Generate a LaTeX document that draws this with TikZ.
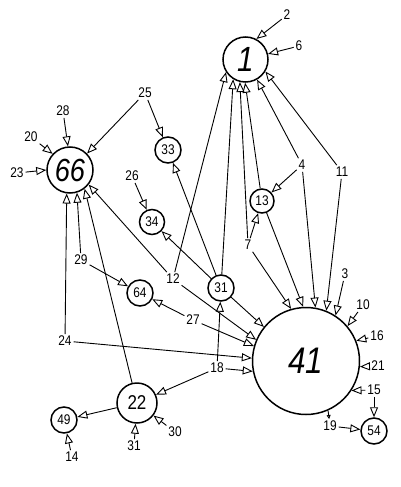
\documentclass[tikz,border=0pt]{standalone}
\usepackage{fontspec}
\usetikzlibrary{arrows.meta}
\newfontfamily\lab[FakeStretch=0.85]{Liberation Sans}
\tikzset{
  v/.style={circle, draw, line width=1.5pt, inner sep=0pt, font=\lab\fontsize{14}{14}\selectfont},
  lbl/.style={inner sep=1.8pt, font=\lab\fontsize{14}{14}\selectfont},
  e/.style={line width=0.9pt, -{Triangle[open,length=10pt,width=8pt]}},
  esmall/.style={line width=0.9pt, -{Triangle[open,length=4pt,width=4pt]}},
}
\begin{document}
\begin{tikzpicture}[x=1pt,y=-1pt]
\useasboundingbox (0,0) rectangle (400,487);
% circles
\node[v, minimum size=45pt, font=\lab\itshape\fontsize{35}{35}\selectfont] (n1) at (245.5,59.5) {1};
\node[v, minimum size=46pt, font=\lab\itshape\fontsize{32}{32}\selectfont] (n66) at (70,170) {66};
\node[v, minimum size=26pt] (n33) at (168,150) {33};
\node[v, minimum size=25pt] (n34) at (152,222) {34};
\node[v, minimum size=24pt] (n13) at (262,201) {13};
\node[v, minimum size=26pt] (n64) at (140,293) {64};
\node[v, minimum size=26pt] (n31) at (221,288) {31};
\node[v, minimum size=107pt, font=\lab\itshape\fontsize{37}{37}\selectfont] (n41) at (306,361) {41};
\node[v, minimum size=40pt, font=\lab\fontsize{20}{20}\selectfont] (n22) at (137,403) {22};
\node[v, minimum size=26pt] (n49) at (64,420) {49};
\node[v, minimum size=26pt] (n54) at (374,431) {54};
% labels
\node[lbl] (l2) at (287,15) {2};
\node[lbl] (l6) at (299,46) {6};
\node[lbl] (l25) at (145,93) {25};
\node[lbl] (l28) at (63,111) {28};
\node[lbl] (l20) at (31,137) {20};
\node[lbl] (l23) at (17,173) {23};
\node[lbl] (l26) at (132,176) {26};
\node[lbl] (l4) at (302,165) {4};
\node[lbl] (l11) at (342,172) {11};
\node[lbl] (l7) at (248,245) {7};
\node[lbl] (l12) at (173,279) {12};
\node[lbl] (l29) at (81,260) {29};
\node[lbl] (l27) at (193,320) {27};
\node[lbl] (l24) at (65,341) {24};
\node[lbl] (l18) at (217,368) {18};
\node[lbl] (l3) at (345,274) {3};
\node[lbl] (l10) at (363,305) {10};
\node[lbl] (l16) at (377,336) {16};
\node[lbl] (l21) at (378,366) {21};
\node[lbl] (l15) at (374,390) {15};
\node[lbl] (l19) at (330,426) {19};
\node[lbl] (l14) at (72,457) {14};
\node[lbl] (l31) at (134,446) {31};
\node[lbl] (l30) at (175,432) {30};
% edges into 1
\draw[e] (l2) -- (n1.62);
\draw[e] (l6) -- (n1.14);
\draw[e] (l12) -- (n1.213);
\draw[e] (n31) -- (n1.238);
\draw[e] (l7) -- (n1.256);
\draw[e] (n13) -- (n1.269);
\draw[e] (l4) -- (n1.300);
\draw[e] (l11) -- (n1.329);
% edges into 66
\draw[e] (l25) -- (n66.44);
\draw[e] (l28) -- (n66.95);
\draw[e] (l20) -- (n66.137);
\draw[e] (l23) -- (n66.180);
\draw[e] (l12) -- (n66.322);
\draw[e] (n22) -- (n66.308);
\draw[e] (l29) -- (n66.287);
\draw[e] (l24) -- (n66.262);
% small nodes
\draw[e] (l25) -- (n33);
\draw[e] (n31) -- (n33);
\draw[e] (l26) -- (n34);
\draw[e] (n31) -- (n34);
\draw[e] (l4) -- (n13);
\draw[e] (l7) -- (n13);
\draw[e] (l29) -- (n64);
\draw[e] (l27) -- (n64);
\draw[e] (l18) -- (n31);
\draw[e] (l18) -- (n22);
\draw[e] (n22) -- (n49);
\draw[e] (l14) -- (n49);
\draw[e] (l31) -- (n22);
\draw[e] (l30) -- (n22);
\draw[e] (l15) -- (n54);
\draw[e] (l19) -- (n54);
\draw[esmall] (n41.294) -- (l19);
% edges into 41
\draw[e] (l7) -- (n41.106);
\draw[e] (n13) -- (n41.93);
\draw[e] (l4) -- (n41.80);
\draw[e] (l11) -- (n41.68);
\draw[e] (l3) -- (n41.57);
\draw[e] (l10) -- (n41.40);
\draw[e] (l16) -- (n41.22);
\draw[e] (l21) -- (n41.354);
\draw[e] (l15) -- (n41.327);
\draw[e] (n31) -- (n41.141);
\draw[e] (l12) -- (n41.157);
\draw[e] (l27) -- (n41.164);
\draw[e] (l24) -- (n41.177);
\draw[e] (l18) -- (n41.191);
\end{tikzpicture}
\end{document}
